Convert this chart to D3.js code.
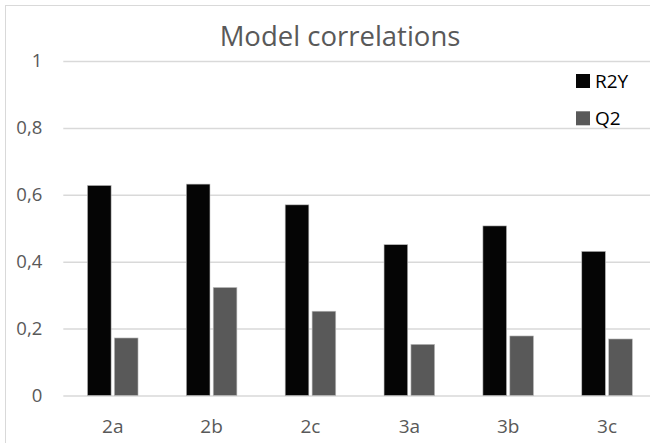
<!DOCTYPE html>
<html><head><meta charset="utf-8">
<script src="https://cdn.jsdelivr.net/npm/d3@7"></script>
<style>body{margin:0;background:#fff}svg{display:block}</style>
</head><body>
<script>
const categories = ["2a","2b","2c","3a","3b","3c"];
const seriesNames = ["R2Y","Q2"];
const r2y = [0.628,0.632,0.570,0.451,0.507,0.431];
const q2 = [0.172,0.323,0.252,0.153,0.178,0.169];
const yTicks = [0,0.2,0.4,0.6,0.8,1];
const colors = ["#050505","#595959"];

const W=650,H=443;
const svg=d3.select("body").append("svg").attr("width",W).attr("height",H);
svg.append("rect").attr("x",5.5).attr("y",5.5).attr("width",W+20).attr("height",H+20)
  .attr("fill","#fff").attr("stroke","#d9d9d9").attr("stroke-width",1);

const x=d3.scaleBand().domain(categories).range([63.3,656.5]).paddingInner(0).paddingOuter(0);
const y=d3.scaleLinear().domain([0,1]).range([395.5,61]);
const inner=d3.scaleBand().domain(seriesNames).range([x.bandwidth()/2-25.3,x.bandwidth()/2+25.3]).paddingInner(0.12);

const fmt=d=>String(d).replace(".",",");
const yAxis=d3.axisLeft(y).tickValues(yTicks).tickFormat(fmt).tickSize(-(656.5-63.3)).tickPadding(21);
const gy=svg.append("g").attr("transform","translate(63.3,0)").call(yAxis);
gy.select(".domain").remove();
gy.selectAll("line").attr("stroke","#d9d9d9").attr("stroke-width",1.5);
gy.selectAll("text").attr("fill","#595959").style("font-family","'Open Sans',sans-serif").style("font-size","18.5px");

const xAxis=d3.axisBottom(x).tickSize(0).tickPadding(24);
const gx=svg.append("g").attr("transform","translate(0,395.5)").call(xAxis);
gx.select(".domain").remove();
gx.selectAll("text").attr("fill","#595959").style("font-family","'Open Sans',sans-serif").style("font-size","19px");

const data=[r2y,q2];
const groups=svg.append("g").selectAll("g").data(categories).join("g")
  .attr("transform",c=>`translate(${x(c)},0)`);
groups.selectAll("rect").data((c,i)=>seriesNames.map((s,j)=>({s,v:data[j][i],j}))).join("rect")
  .attr("x",d=>inner(d.s)).attr("width",inner.bandwidth())
  .attr("y",d=>y(d.v)).attr("height",d=>y(0)-y(d.v))
  .attr("fill",d=>colors[d.j]).attr("stroke","#bfbfbf").attr("stroke-width",0.6);

svg.append("text").attr("x",340).attr("y",46).attr("text-anchor","middle")
  .attr("fill","#595959").style("font-family","'Open Sans',sans-serif").style("font-size","27.5px")
  .text("Model correlations");

const leg=svg.append("g").selectAll("g").data(seriesNames).join("g")
  .attr("transform",(d,i)=>`translate(576,${74+i*37.3})`);
leg.append("rect").attr("width",14).attr("height",14).attr("fill",(d,i)=>colors[i]);
leg.append("text").attr("x",19).attr("y",14).attr("fill","#000")
  .style("font-family","'Open Sans',sans-serif").style("font-size","19px").text(d=>d);
</script>
</body></html>
